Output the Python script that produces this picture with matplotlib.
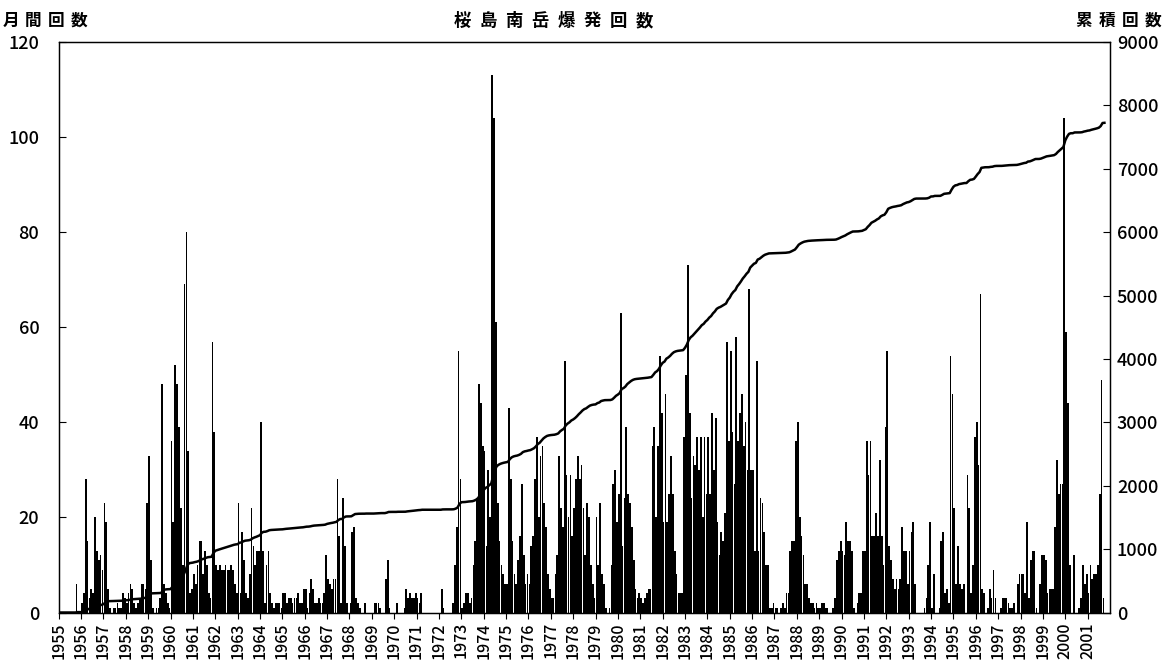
import numpy as np
import matplotlib
matplotlib.use('Agg')
import matplotlib.pyplot as plt

plt.rcParams['font.family'] = ['Noto Sans CJK JP', 'DejaVu Sans']

# monthly explosion counts, Jan..Dec of each year
c1955 = [0, 0, 0, 0, 0, 0, 0, 0, 0, 6, 0, 0]
c1956 = [2, 4, 28, 15, 3, 5, 4, 20, 13, 11, 12, 9]
c1957 = [23, 19, 5, 1, 0, 1, 1, 2, 1, 1, 4, 3]
c1958 = [2, 4, 6, 5, 2, 1, 2, 3, 6, 6, 5, 23]
c1959 = [33, 11, 1, 0, 1, 1, 3, 48, 6, 4, 2, 1]
c1960 = [36, 19, 52, 48, 39, 22, 10, 69, 80, 34, 4, 5]
c1961 = [8, 6, 10, 15, 15, 8, 13, 10, 4, 3, 57, 38]
c1962 = [10, 9, 10, 9, 9, 10, 9, 9, 10, 9, 6, 4]
c1963 = [23, 4, 17, 11, 4, 3, 8, 22, 14, 10, 13, 13]
c1964 = [40, 13, 2, 10, 13, 4, 2, 1, 2, 2, 2, 1]
c1965 = [4, 4, 2, 3, 3, 2, 3, 3, 4, 2, 2, 5]
c1966 = [5, 1, 4, 7, 5, 2, 2, 3, 2, 2, 4, 12]
c1967 = [7, 6, 5, 7, 7, 28, 16, 2, 24, 14, 2, 0]
c1968 = [2, 17, 18, 3, 2, 1, 0, 0, 2, 0, 0, 0]
c1969 = [0, 2, 2, 2, 1, 0, 0, 7, 11, 1, 0, 0]
c1970 = [0, 2, 0, 0, 0, 1, 5, 3, 4, 3, 3, 4]
c1971 = [3, 2, 4, 0, 0, 0, 0, 0, 0, 0, 0, 0]
c1972 = [0, 5, 1, 0, 0, 0, 0, 2, 10, 18, 55, 28]
c1973 = [1, 2, 4, 4, 2, 3, 10, 15, 24, 48, 44, 35]
c1974 = [34, 14, 30, 20, 113, 104, 61, 23, 15, 10, 8, 6]
c1975 = [6, 43, 28, 15, 8, 6, 11, 16, 27, 12, 6, 8]
c1976 = [6, 14, 16, 28, 37, 20, 33, 35, 23, 18, 8, 5]
c1977 = [3, 3, 8, 12, 33, 22, 18, 53, 29, 20, 29, 16]
c1978 = [22, 28, 33, 28, 31, 22, 12, 23, 20, 10, 6, 3]
c1979 = [20, 10, 23, 8, 6, 1, 0, 1, 10, 27, 30, 19]
c1980 = [25, 63, 14, 24, 39, 25, 23, 18, 11, 5, 3, 4]
c1981 = [3, 2, 3, 4, 5, 5, 35, 39, 20, 35, 54, 42]
c1982 = [19, 46, 19, 25, 33, 25, 13, 8, 4, 4, 4, 37]
c1983 = [50, 73, 42, 24, 33, 31, 37, 30, 37, 20, 37, 25]
c1984 = [37, 25, 42, 30, 41, 19, 12, 17, 15, 21, 57, 36]
c1985 = [55, 38, 27, 58, 36, 42, 46, 35, 40, 30, 68, 30]
c1986 = [30, 13, 53, 13, 24, 23, 17, 10, 10, 1, 1, 2]
c1987 = [1, 1, 0, 1, 2, 1, 4, 4, 13, 15, 15, 36]
c1988 = [40, 20, 16, 12, 6, 6, 3, 2, 2, 1, 2, 1]
c1989 = [1, 2, 2, 1, 1, 0, 0, 1, 3, 11, 13, 15]
c1990 = [13, 12, 19, 15, 15, 13, 1, 0, 2, 4, 4, 13]
c1991 = [13, 36, 29, 36, 16, 16, 21, 16, 32, 16, 10, 39]
c1992 = [55, 14, 11, 7, 5, 7, 5, 7, 18, 13, 13, 6]
c1993 = [13, 17, 19, 6, 0, 0, 0, 0, 1, 3, 10, 19]
c1994 = [1, 8, 0, 0, 1, 15, 17, 4, 5, 2, 54, 46]
c1995 = [22, 6, 14, 6, 5, 6, 0, 29, 22, 4, 10, 37]
c1996 = [40, 31, 67, 5, 4, 0, 1, 5, 3, 9, 3, 0]
c1997 = [0, 1, 3, 3, 3, 2, 1, 1, 2, 0, 6, 8]
c1998 = [8, 8, 4, 19, 3, 11, 13, 13, 1, 0, 6, 12]
c1999 = [12, 11, 4, 5, 5, 5, 18, 32, 25, 27, 27, 104]
c2000 = [59, 44, 10, 0, 12, 0, 0, 1, 3, 10, 6, 8]
c2001 = [4, 10, 7, 8, 8, 10, 25, 49, 3]

year_labels = list(range(1955, 2002))

monthly = np.concatenate([
    c1955, c1956, c1957, c1958, c1959, c1960, c1961, c1962, c1963, c1964,
    c1965, c1966, c1967, c1968, c1969, c1970, c1971, c1972, c1973, c1974,
    c1975, c1976, c1977, c1978, c1979, c1980, c1981, c1982, c1983, c1984,
    c1985, c1986, c1987, c1988, c1989, c1990, c1991, c1992, c1993, c1994,
    c1995, c1996, c1997, c1998, c1999, c2000, c2001])
months = np.arange(len(monthly))
cumulative = np.cumsum(monthly)

W, H = 1169, 664
fig = plt.figure(figsize=(W / 100, H / 100), dpi=100)
ax = fig.add_axes([58.7 / W, 51.5 / H, (1110 - 58.7) / W, (612.5 - 42) / H])

ax.bar(months + 0.5, monthly, width=0.92, color='black', linewidth=0)
ax.set_xlim(0, 564)
ax.set_ylim(0, 120)
ax.set_yticks(range(0, 121, 20))
ax.set_xticks([(y - 1955) * 12 for y in year_labels])
ax.set_xticklabels([str(y) for y in year_labels], rotation=90)
ax.tick_params(axis='y', direction='in', length=5, pad=14, labelsize=13)
ax.tick_params(axis='x', direction='out', length=4, pad=3, labelsize=11.5)

ax2 = ax.twinx()
ax2.plot(np.r_[0, months + 1], np.r_[0, cumulative], color='black', lw=1.8)
ax2.set_ylim(0, 9000)
ax2.set_yticks(range(0, 9001, 1000))
ax2.tick_params(axis='y', direction='in', length=5, pad=5, labelsize=13)

for a in (ax, ax2):
    for s in a.spines.values():
        s.set_linewidth(0.9)
    for lab in a.get_xticklabels() + a.get_yticklabels():
        lab.set_fontweight('medium')


def spaced(x, y, s, pitch, size):
    # letter-spaced text, x/y in pixels from the top-left corner
    for i, ch in enumerate(s):
        fig.text((x + i * pitch) / W, 1 - y / H, ch, fontsize=size,
                 ha='center', va='center', fontweight='bold')


spaced(11, 21, '月間回数', 22.5, 12)
spaced(462, 21, '桜島南岳爆発回数', 26, 12.5)
spaced(1084, 21, '累積回数', 23, 12)

fig.savefig('out.png', dpi=100)
